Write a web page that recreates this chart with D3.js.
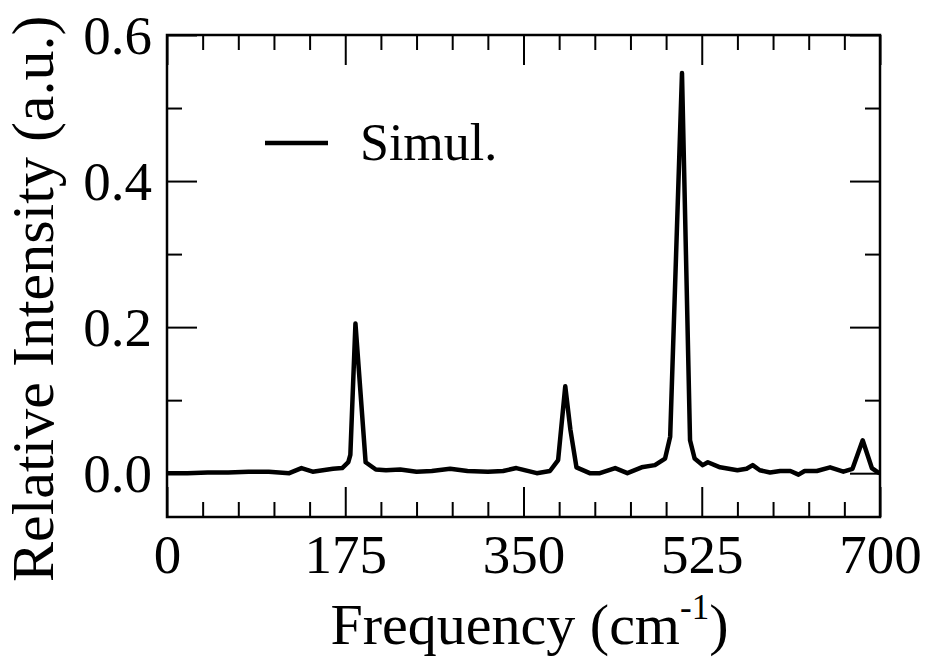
<!DOCTYPE html>
<html>
<head>
<meta charset="utf-8">
<script src="https://cdn.jsdelivr.net/npm/d3@7"></script>
<style>
  html, body { margin: 0; padding: 0; background: #fff; }
  svg { display: block; }
  text { font-family: "Liberation Serif", "Times New Roman", serif; fill: #000; }
</style>
</head>
<body>
<svg id="chart" width="928" height="658"></svg>
<script>
// ---- data ----
const frequency = [0, 20, 40, 60, 80, 100, 110, 120, 132, 143, 153, 163, 172, 178, 180, 185, 195, 205, 215, 229, 245, 260, 278, 295, 315, 330, 343, 363, 376, 384, 391, 396, 402, 415, 425, 440, 452, 466, 479, 489, 494, 505.6, 513.5, 518, 526, 531, 543, 560, 569, 575, 582, 592, 602, 612, 620, 626, 638, 651, 664, 673, 683, 692, 698, 700];
const intensity = [0.000, 0.000, 0.001, 0.001, 0.002, 0.002, 0.001, 0.000, 0.007, 0.002, 0.004, 0.006, 0.007, 0.015, 0.025, 0.205, 0.015, 0.005, 0.004, 0.005, 0.002, 0.003, 0.006, 0.003, 0.002, 0.003, 0.007, 0.000, 0.003, 0.018, 0.119, 0.060, 0.008, 0.000, 0.000, 0.007, 0.000, 0.008, 0.011, 0.020, 0.050, 0.548, 0.045, 0.020, 0.011, 0.015, 0.008, 0.004, 0.006, 0.011, 0.004, 0.001, 0.003, 0.003, -0.002, 0.003, 0.003, 0.008, 0.002, 0.006, 0.045, 0.007, 0.001, 0.000];
const xMajorTicks = [0, 175, 350, 525, 700];
const xMinorTicks = [35, 70, 105, 140, 210, 245, 280, 315, 385, 420, 455, 490, 560, 595, 630, 665];
const yMajorTicks = [0.0, 0.2, 0.4, 0.6];
const yMinorTicks = [0.1, 0.3, 0.5];
const seriesName = "Simul.";
const xTitle = "Frequency (cm";
const xTitleSup = "-1";
const yTitle = "Relative Intensity (a.u.)";

// ---- layout ----
const svg = d3.select("#chart");
const mLeft = 167, mTop = 35, mRight = 880, mBottom = 517;
const x = d3.scaleLinear().domain([0, 700]).range([mLeft, mRight]);
const y = d3.scaleLinear().domain([-0.06, 0.6]).range([mBottom, mTop]);
const majorLen = 30, minorLen = 15;

function styleAxis(g, labelled) {
  g.select(".domain").remove();
  g.selectAll(".tick line").attr("stroke", "#000").attr("stroke-width", 2);
  if (!labelled) g.selectAll(".tick text").remove();
}

// bottom axis (labelled)
const gb = svg.append("g").attr("transform", `translate(0,${mBottom})`)
  .call(d3.axisBottom(x).tickValues(xMajorTicks).tickSizeInner(-majorLen).tickSizeOuter(0).tickPadding(0).tickFormat(d3.format("d")));
styleAxis(gb, true);
gb.selectAll(".tick text").attr("font-size", 55).attr("y", 56).attr("dy", 0)
  .attr("font-family", "Liberation Serif");
svg.append("g").attr("transform", `translate(0,${mBottom})`)
  .call(d3.axisBottom(x).tickValues(xMinorTicks).tickSizeInner(-minorLen).tickSizeOuter(0).tickFormat(""))
  .call(g => styleAxis(g, false));
// top axis (mirror)
svg.append("g").attr("transform", `translate(0,${mTop})`)
  .call(d3.axisTop(x).tickValues(xMajorTicks).tickSizeInner(-majorLen).tickSizeOuter(0).tickFormat(""))
  .call(g => styleAxis(g, false));
svg.append("g").attr("transform", `translate(0,${mTop})`)
  .call(d3.axisTop(x).tickValues(xMinorTicks).tickSizeInner(-minorLen).tickSizeOuter(0).tickFormat(""))
  .call(g => styleAxis(g, false));

// left axis (labelled)
const gl = svg.append("g").attr("transform", `translate(${mLeft},0)`)
  .call(d3.axisLeft(y).tickValues(yMajorTicks).tickSizeInner(-majorLen).tickSizeOuter(0).tickPadding(0).tickFormat(d3.format(".1f")));
styleAxis(gl, true);
gl.selectAll(".tick text").attr("font-size", 55).attr("x", -15).attr("dy", "0.34em")
  .attr("font-family", "Liberation Serif");
svg.append("g").attr("transform", `translate(${mLeft},0)`)
  .call(d3.axisLeft(y).tickValues(yMinorTicks).tickSizeInner(-minorLen).tickSizeOuter(0).tickFormat(""))
  .call(g => styleAxis(g, false));
// right axis (mirror)
svg.append("g").attr("transform", `translate(${mRight},0)`)
  .call(d3.axisRight(y).tickValues(yMajorTicks).tickSizeInner(-majorLen).tickSizeOuter(0).tickFormat(""))
  .call(g => styleAxis(g, false));
svg.append("g").attr("transform", `translate(${mRight},0)`)
  .call(d3.axisRight(y).tickValues(yMinorTicks).tickSizeInner(-minorLen).tickSizeOuter(0).tickFormat(""))
  .call(g => styleAxis(g, false));

// data line
const pts = frequency.map((f, i) => [f, intensity[i]]);
svg.append("path")
  .datum(pts)
  .attr("fill", "none")
  .attr("stroke", "#000")
  .attr("stroke-width", 4.5)
  .attr("stroke-linejoin", "round")
  .attr("d", d3.line().x(d => x(d[0])).y(d => y(d[1])));

// frame
svg.append("rect")
  .attr("x", mLeft).attr("y", mTop)
  .attr("width", mRight - mLeft).attr("height", mBottom - mTop)
  .attr("fill", "none").attr("stroke", "#000").attr("stroke-width", 2.5);

// legend
svg.append("line")
  .attr("x1", 265).attr("x2", 328).attr("y1", 143).attr("y2", 143)
  .attr("stroke", "#000").attr("stroke-width", 4.5);
svg.append("text")
  .attr("x", 360).attr("y", 160)
  .attr("font-size", 52)
  .text(seriesName);

// axis titles
const xt = svg.append("text")
  .attr("x", (mLeft + mRight) / 2 + 6).attr("y", 644)
  .attr("text-anchor", "middle")
  .attr("font-size", 58);
xt.append("tspan").text(xTitle);
xt.append("tspan").attr("font-size", 35).attr("dy", -25).text(xTitleSup);
xt.append("tspan").attr("dy", 25).text(")");

svg.append("text")
  .attr("transform", "translate(53,582) rotate(-90)")
  .attr("font-size", 60)
  .text(yTitle);
</script>
</body>
</html>
